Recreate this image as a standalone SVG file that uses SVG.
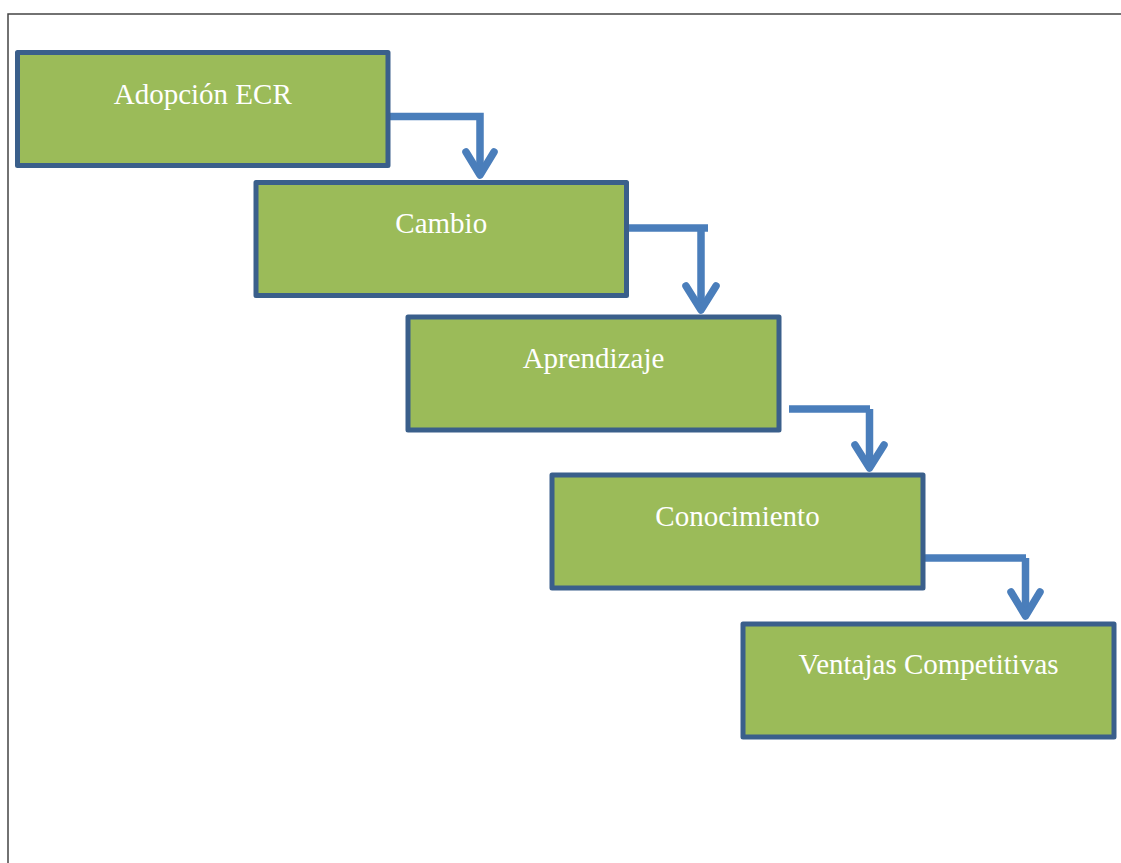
<svg xmlns="http://www.w3.org/2000/svg" width="1121" height="863" viewBox="0 0 1121 863">
  <style>
    .box { fill: #9BBB59; stroke: #3A5F8B; stroke-width: 5; stroke-linejoin: round; }
    .lbl { font-family: "Liberation Serif", "Times New Roman", serif; font-size: 29px; fill: #FFFFFF; text-anchor: middle; }
    .conn { fill: none; stroke: #4A7EBB; stroke-width: 7.5; stroke-linecap: butt; stroke-linejoin: miter; }
    .head { fill: none; stroke: #4A7EBB; stroke-width: 7.5; stroke-linecap: round; stroke-linejoin: round; }
    .frame { fill: none; stroke: #444444; stroke-width: 1.5; }
  </style>
  <rect x="0" y="0" width="1121" height="863" fill="#FFFFFF"/>
  <path class="frame" d="M8,863 V14 H1121"/>

  <g id="connectors">
    <path class="conn" d="M388,116.5 H480 V174"/>
    <path class="head" d="M466,152 L480,175 L494,152"/>

    <path class="conn" d="M626.5,228 H708"/>
    <path class="conn" d="M701,228 V308"/>
    <path class="head" d="M686,286 L701,310 L716,286"/>

    <path class="conn" d="M789,409 H870"/>
    <path class="conn" d="M869.5,409 V466"/>
    <path class="head" d="M855,445 L869.5,468 L884,445"/>

    <path class="conn" d="M923,558 H1026"/>
    <path class="conn" d="M1025.5,558 V614"/>
    <path class="head" d="M1011,592 L1025.5,616 L1040,592"/>
  </g>

  <g id="node-adopcion">
    <rect class="box" x="17.5" y="52.5" width="370.5" height="113"/>
    <text class="lbl" x="202.75" y="104">Adopción ECR</text>
  </g>
  <g id="node-cambio">
    <rect class="box" x="256" y="182.5" width="370.5" height="113"/>
    <text class="lbl" x="441.25" y="233">Cambio</text>
  </g>
  <g id="node-aprendizaje">
    <rect class="box" x="408" y="317" width="371" height="113"/>
    <text class="lbl" x="593.5" y="368">Aprendizaje</text>
  </g>
  <g id="node-conocimiento">
    <rect class="box" x="552" y="475" width="371" height="113"/>
    <text class="lbl" x="737.5" y="526">Conocimiento</text>
  </g>
  <g id="node-ventajas">
    <rect class="box" x="743" y="624" width="371" height="113"/>
    <text class="lbl" x="928.5" y="674">Ventajas Competitivas</text>
  </g>
</svg>
